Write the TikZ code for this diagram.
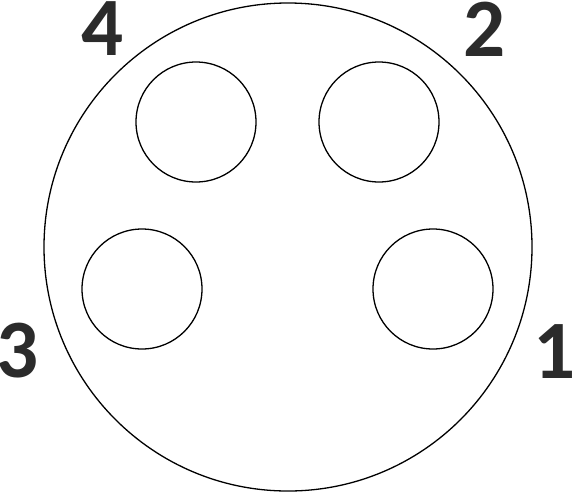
\documentclass[tikz,border=0pt]{standalone}
\usepackage{fontspec}
\setmainfont{Carlito}
\definecolor{pinlabel}{HTML}{2B2B2B}
\begin{document}
\begin{tikzpicture}[x=1pt,y=-1pt,line width=1.3pt,
  pinnum/.style={inner sep=0pt,text=pinlabel,font=\fontsize{83}{83}\selectfont\bfseries}]
\useasboundingbox (0,0) rectangle (572,491);

\draw (288,247) circle (244);

\draw (196,122) circle (60);
\draw (379,122) circle (60);
\draw (142,289) circle (60);
\draw (433,289) circle (60);

\node[pinnum] (p4) at (103,29){4};
\node[pinnum] (p2) at (485,29){2};
\node[pinnum] (p3) at (18,351){3};
\node[pinnum] (p1) at (555,352){1};
\end{tikzpicture}
\end{document}
